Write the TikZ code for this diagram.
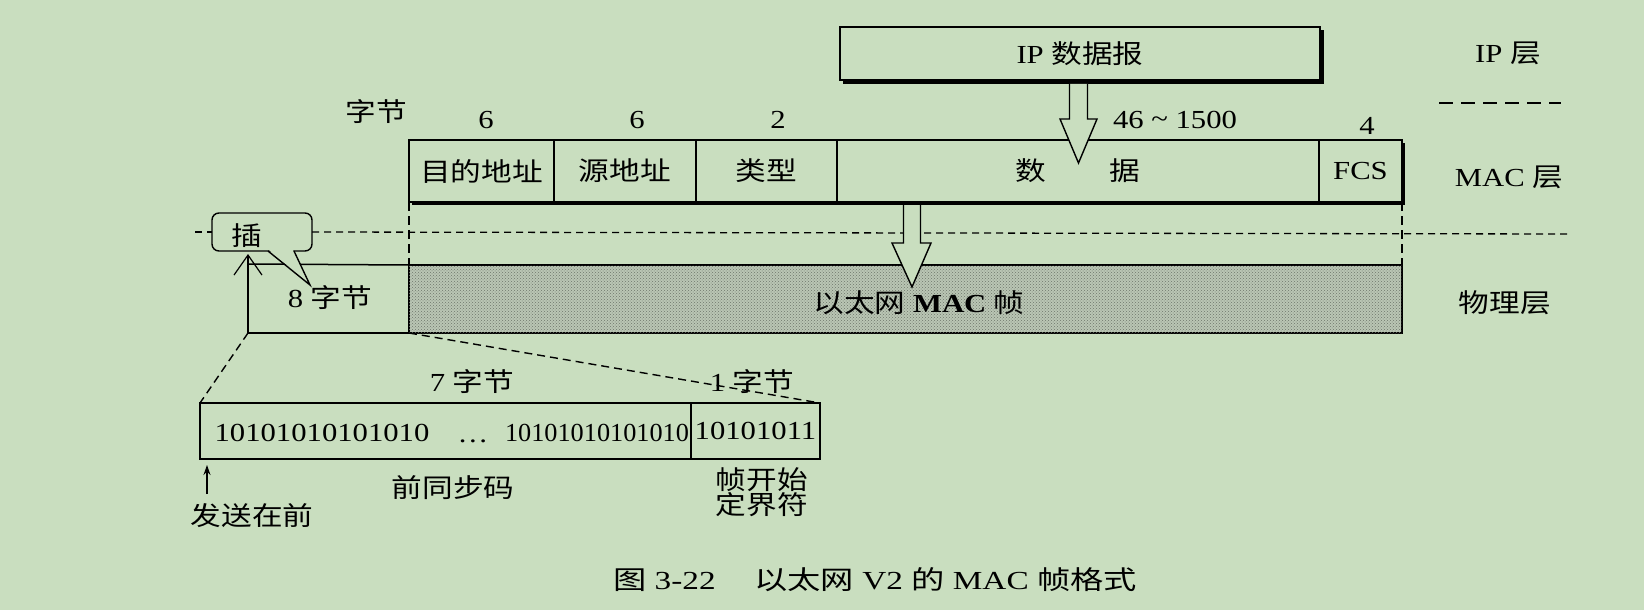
\documentclass[tikz,border=0pt]{standalone}
\usepackage{fontspec}
\setmainfont{Liberation Serif}
\newfontfamily\cjk{Noto Sans CJK SC}
\usetikzlibrary{arrows.meta,patterns}
\definecolor{bg}{RGB}{201,222,191}
\definecolor{grayfill}{RGB}{186,198,180}
\definecolor{speck}{RGB}{110,118,108}
\newcommand{\hs}[1]{\scalebox{1.18}[1]{#1}}
\newcommand{\hsc}[1]{\scalebox{1.28}[1]{#1}}
\begin{document}
\begin{tikzpicture}[x=1pt,y=-1pt, line width=1.5pt,
  every node/.style={inner sep=0pt, outer sep=0pt, font=\fontsize{26}{30}\selectfont},
  field/.style={draw, fill=bg, minimum height=62pt},
  hollow/.style={draw, fill=bg, line width=1.4pt, line join=miter},
  sep/.style={dash pattern=on 7pt off 5pt, line width=1.3pt},
  vsep/.style={dash pattern=on 9pt off 5pt, line width=1.3pt},
  zoomline/.style={dash pattern=on 8pt off 5pt, line width=1.4pt},
]
\fill[bg] (0,0) rectangle (1644,610);
\useasboundingbox (0,0) rectangle (1644,610);

% IP datagram
\fill (843,30) rectangle (1324,84);
\node[draw, fill=bg, minimum width=480pt, minimum height=53pt] (ip) at (1080,53.5) {\hs{IP {\cjk 数据报}}};

% MAC frame row
\fill (412,143) rectangle (1405,205);
\node[field, minimum width=145pt] (dst) at (481.5,171) {\hs{\cjk 目的地址}};
\node[field, minimum width=142pt] (src) at (625,171) {\hs{\cjk 源地址}};
\node[field, minimum width=141pt] (typ) at (766.5,171) {\hs{\cjk 类型}};
\node[field, minimum width=482pt] (dat) at (1078,171) {\hs{{\cjk 数}\hspace{54pt}{\cjk 据}}};
\node[field, minimum width=83pt] (fcs) at (1360.5,171) {\hs{FCS}};

% byte counts
\node (bytes) at (376,112) {\hs{\cjk 字节}};
\node (n1) at (486,120) {\hs{6}};
\node (n2) at (637,120) {\hs{6}};
\node (n3) at (778,120) {\hs{2}};
\node (n4) at (1175,120) {\hs{46 \raisebox{1pt}{\char"7E} 1500}};
\node (n5) at (1367,126) {\hs{4}};

% arrow IP -> MAC
\draw[hollow] (1069.5,84) -- (1069.5,119) -- (1060,119) -- (1078.5,163) -- (1097,119) -- (1087.5,119) -- (1087.5,84);

% layer labels
\node (lip) at (1508,53) {\hs{IP {\cjk 层}}};
\coordinate (d1) at (1439,103);
\coordinate (d2) at (1561,103);
\draw[dash pattern=on 14pt off 8pt, line width=2pt] (d1) -- (d2);
\node (lmac) at (1509,177) {\hs{MAC {\cjk 层}}};
\node (lphy) at (1505,303) {\hs{\cjk 物理层}};

% physical frame
\node[draw, fill=grayfill, postaction={pattern=crosshatch dots, pattern color=speck}, minimum width=993pt, minimum height=68pt] (eth) at (905.5,299) {};
\node (ethl) at (919,303) {\hs{{\cjk 以太网} \textbf{MAC} {\cjk 帧}}};

% vertical dashed guides
\draw[vsep] (dst.south west) -- (eth.north west);
\draw[vsep] (fcs.south east) -- (eth.north east);

% 8-byte preamble box
\coordinate (pt) at (248,264);
\coordinate (pb) at (248,333);
\coordinate (insup) at (248,254);
\draw (pt) -- (eth.north west);
\draw (pb) -- (eth.south west);
\draw[line width=1.2pt, -{Straight Barb[length=20pt,width=28pt,line width=1.2pt]}] (pb) -- (insup);
\node (eight) at (330,298) {\hs{8 {\cjk 字节}}};

% balloon
\node[draw, fill=bg, rounded corners=7pt, minimum width=100pt, minimum height=38pt, line width=1.4pt] (ins) at (262,232) {};
\node (inst) at (247,236) {\hs{\cjk 插}};
\coordinate (tailtip) at (310,285);
\fill[bg] (269,250) -- (tailtip) -- (293,250) -- cycle;
\draw[line width=1.4pt] (268,251) -- (tailtip) -- (294,251);

% layer boundary
\coordinate (ll) at (195,232);
\coordinate (lr) at (1571,234);
\draw[sep] (ll) -- (ins.west);
\draw[sep] (ins.east) -- (lr);

% arrow MAC -> physical
\draw[hollow] (903.5,205) -- (903.5,243) -- (892,243) -- (912,287) -- (931,243) -- (920.5,243) -- (920.5,205);

% preamble detail
\node[draw, line width=2.2pt, minimum width=491pt, minimum height=56pt] (pre) at (445.5,431) {};
\node[draw, line width=2.2pt, minimum width=129pt, minimum height=56pt] (sfd) at (755.5,431) {\hs{10101011}};
\node (p1) at (322,433) {\hs{10101010101010}};
\node[anchor=base] (dots) at (473,442) {\hs{\ldots}};
\node (p2) at (597,433) {\scalebox{1.01}[1]{10101010101010}};
\draw[zoomline] (pb) -- (pre.north west);
\draw[zoomline] (eth.south west) -- (sfd.north east);
\node (seven) at (472,382) {\hs{7 {\cjk 字节}}};
\node (one) at (752,382) {\hs{1 {\cjk 字节}}};
\node (sync) at (453,488) {\hs{\cjk 前同步码}};
\node[align=center, font=\fontsize{26}{25}\selectfont] (sfdl) at (762,492) {\hs{\cjk 帧开始}\\\hs{\cjk 定界符}};
\coordinate (sa) at (207,494);
\coordinate (sb) at (207,465);
\draw[line width=1.2pt, -{Stealth[length=10pt,width=7pt]}] (sa) -- (sb);
\node (first) at (252,516) {\hs{\cjk 发送在前}};

% caption
\node (cap) at (875,580) {\hsc{{\cjk 图} 3-22\hspace{30pt}{\cjk 以太网} V2 {\cjk 的} MAC {\cjk 帧格式}}};
\end{tikzpicture}
\end{document}
